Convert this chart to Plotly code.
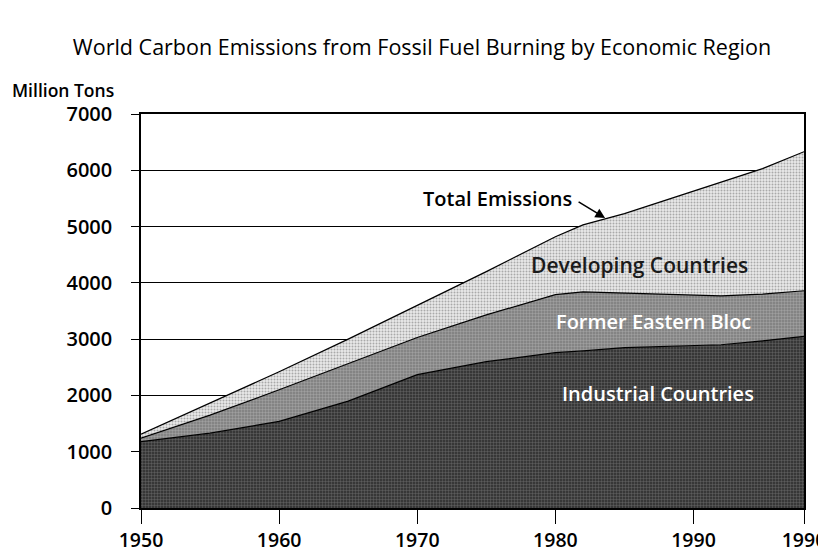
import plotly.graph_objects as go

# (million tons of carbon)
years = [1950, 1955, 1960, 1965, 1970, 1975, 1980, 1982, 1985, 1990, 1992, 1995, 1998]
industrial = [1180, 1330, 1540, 1900, 2370, 2600, 2760, 2790, 2850, 2880, 2900, 2970, 3050]
eastern_bloc = [60, 320, 560, 660, 660, 830, 1030, 1050, 970, 910, 870, 830, 810]
developing = [70, 210, 320, 440, 570, 770, 1030, 1190, 1410, 1840, 2020, 2230, 2470]

x_ticks = [1950, 1960, 1970, 1980, 1990, 1998]
x_tick_text = ["1950", "1960", "1970", "1980", "1990", "1990"]

FONT = "Open Sans"

# name, values, background grey, dot grey
series = [
    ("Industrial Countries", industrial, "#2a2a2a", "#8c8c8c", 0.5),
    ("Former Eastern Bloc", eastern_bloc, "#7a7a7a", "#c4c4c4", 0.5),
    ("Developing Countries", developing, "#e8e8e8", "#6a6a6a", 0.35),
]

fig = go.Figure()
for name, vals, bg, fg, sol in series:
    fig.add_trace(
        go.Scatter(
            x=years,
            y=vals,
            name=name,
            mode="lines",
            stackgroup="one",
            line=dict(color="black", width=1.2),
            fillcolor=bg,
            fillpattern=dict(shape=".", bgcolor=bg, fgcolor=fg, size=3, solidity=sol),
            hoverinfo="skip",
        )
    )

fig.update_xaxes(
    range=[1950, 1998],
    tickvals=x_ticks,
    ticktext=x_tick_text,
    automargin=False,
    ticklabeloverflow="allow",
    showgrid=False,
    zeroline=False,
    showline=True,
    linecolor="black",
    linewidth=1.5,
    mirror=True,
    ticks="outside",
    ticklen=14,
    tickwidth=1.2,
    tickcolor="black",
    ticklabelstandoff=0,
    tickfont=dict(family=FONT, size=19.5, color="black", weight=600),
)
fig.update_yaxes(
    range=[0, 7000],
    dtick=1000,
    automargin=False,
    showgrid=True,
    gridcolor="black",
    gridwidth=1.2,
    zeroline=False,
    showline=True,
    linecolor="black",
    linewidth=1.5,
    mirror=True,
    ticks="outside",
    ticklen=8,
    tickwidth=1.2,
    tickcolor="black",
    ticklabelstandoff=15,
    tickfont=dict(family=FONT, size=20, color="black", weight=600),
)

annotations = [
    dict(x=1975.8, y=5507, text="Total Emissions", showarrow=False,
         font=dict(family=FONT, size=20, color="black", weight=600)),
    dict(x=1983.6, y=5152, ax=-28, ay=-17, text="", showarrow=True,
         arrowhead=2, arrowsize=1.3, arrowwidth=1.5, arrowcolor="black"),
    dict(x=1986.1, y=4317, text="Developing Countries", showarrow=False,
         font=dict(family=FONT, size=21, color="#1a1a1a", weight=600)),
    dict(x=1987.1, y=3310, text="Former Eastern Bloc", showarrow=False,
         font=dict(family=FONT, size=20, color="white", weight=600)),
    dict(x=1987.4, y=2043, text="Industrial Countries", showarrow=False,
         font=dict(family=FONT, size=20, color="white", weight=600)),
    # "Million Tons" sits in the margin; position relative to the plot area
    dict(x=(10 - 141) / 663, y=(508 - 90) / 394, xref="paper", yref="paper",
         text="Million Tons", showarrow=False, xanchor="left", yanchor="middle",
         font=dict(family=FONT, size=17.5, color="black", weight=600)),
]

# page has an 8px body margin, so the figure is sized to fit inside it
W, H = 818, 544
fig.update_layout(
    width=W,
    height=H,
    margin=dict(l=133, r=22, t=106, b=44),
    paper_bgcolor="white",
    plot_bgcolor="white",
    showlegend=False,
    title=dict(
        text="World Carbon Emissions from Fossil Fuel Burning by Economic Region",
        x=414 / W,
        xanchor="center",
        y=1 - 39 / H,
        yanchor="middle",
        font=dict(family=FONT, size=21.5, color="black"),
    ),
    annotations=annotations,
)

fig.write_html("out.html")
